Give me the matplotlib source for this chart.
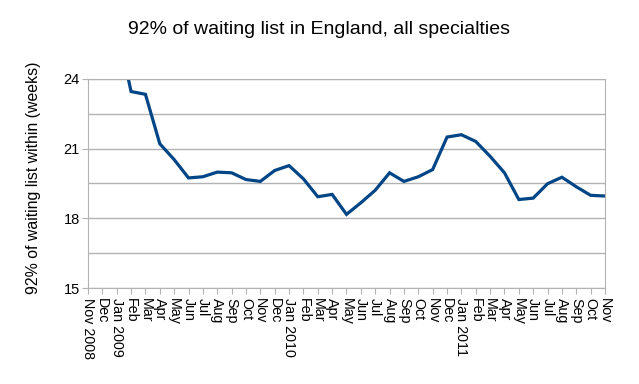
import numpy as np
import matplotlib
matplotlib.use("Agg")
import matplotlib.pyplot as plt
from matplotlib.ticker import MultipleLocator

plt.rcParams['font.family'] = ['Liberation Sans', 'DejaVu Sans']

months = ['Nov 2008', 'Dec', 'Jan 2009', 'Feb', 'Mar', 'Apr', 'May', 'Jun', 'Jul',
          'Aug', 'Sep', 'Oct', 'Nov', 'Dec', 'Jan 2010', 'Feb', 'Mar', 'Apr', 'May',
          'Jun', 'Jul', 'Aug', 'Sep', 'Oct', 'Nov', 'Dec', 'Jan 2011', 'Feb', 'Mar',
          'Apr', 'May', 'Jun', 'Jul', 'Aug', 'Sep', 'Oct', 'Nov']

# weeks; first months are off the top of the chart
weeks = [np.nan, np.nan, 26.3, 23.46, 23.34, 21.21, 20.53, 19.74, 19.79,
         19.99, 19.96, 19.67, 19.59, 20.06, 20.27, 19.70, 18.93, 19.03, 18.17,
         18.67, 19.21, 19.96, 19.59, 19.79, 20.10, 21.50, 21.60, 21.31, 20.67,
         19.96, 18.81, 18.87, 19.49, 19.77, 19.36, 18.99, 18.96]

grey = '#b3b3b3'

fig = plt.figure(figsize=(6.39, 3.84), dpi=100)
ax = fig.add_axes([0.1377, 0.25, 0.8091, 0.5443])

x = np.arange(len(months))
ax.plot(x, weeks, color='#004586', lw=2.3, solid_joinstyle='miter')

ax.set_xlim(0, len(months) - 1)
ax.set_ylim(15, 24)
ax.yaxis.set_major_locator(MultipleLocator(3))
ax.yaxis.set_minor_locator(MultipleLocator(1.5))
ax.grid(True, which='both', axis='y', color=grey, lw=1)
ax.set_axisbelow(True)

ax.set_xticks(x)
ax.set_xticklabels(months, rotation=-90, fontsize=10.3)
ax.tick_params(axis='x', length=4, color=grey, pad=3)
ax.tick_params(axis='y', which='major', length=4, color=grey, labelsize=10.5, pad=2)
ax.tick_params(axis='y', which='minor', length=0)

for s in ax.spines.values():
    s.set_color(grey)

fig.text(0.5, 0.922, '92% of waiting list in England, all specialties',
         ha='center', va='center', fontsize=14)
fig.text(0.052, 0.536, '92% of waiting list within (weeks)', rotation=90,
         ha='center', va='center', fontsize=11.4)

fig.savefig('out.png', dpi=100)
